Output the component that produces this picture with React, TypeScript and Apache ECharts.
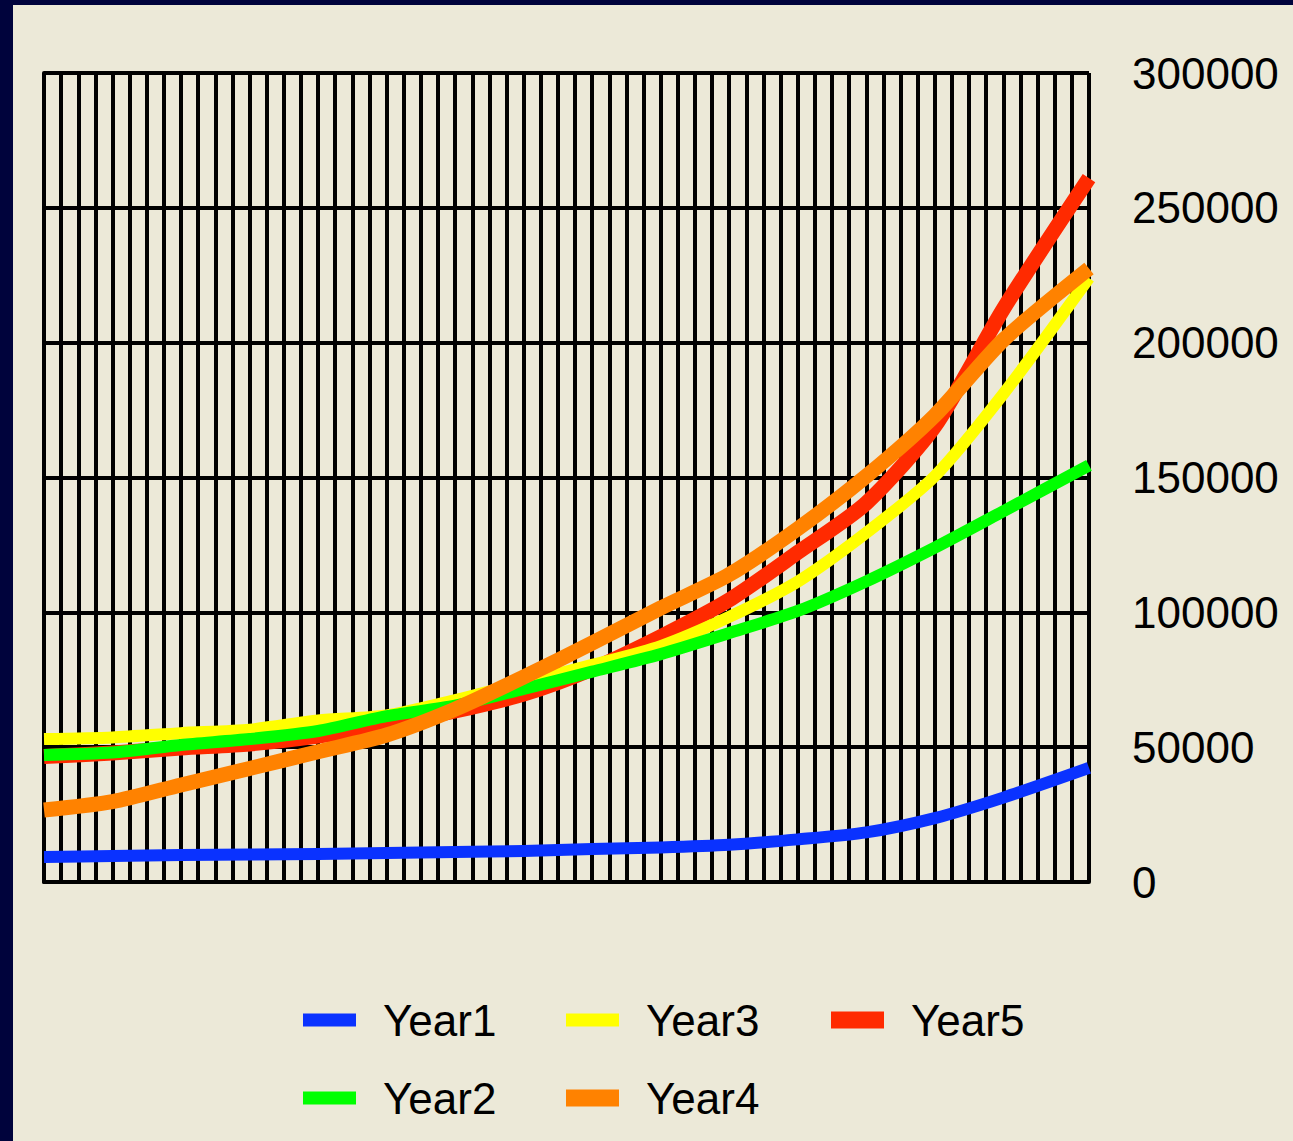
import { useEffect, useRef } from "react";
import * as echarts from "echarts";

// Period index (x) at which each value was taken; the axis runs 0..61
const periods = [0, 4, 8, 12, 16, 20, 24, 28, 32, 36, 40, 44, 48, 52, 56, 61];

const year1 = [9300, 9600, 10000, 10200, 10400, 10800, 11100, 11500, 12200, 12800, 13800, 15800, 18400, 23700, 31300, 42300];
const year2 = [47100, 48000, 50800, 53000, 56000, 61500, 65400, 71600, 78000, 84500, 92300, 100500, 111500, 124000, 137500, 154500];
const year3 = [53000, 53600, 55200, 56500, 59900, 61800, 67500, 74000, 80500, 87500, 98300, 111400, 129500, 150500, 181000, 224000];
const year4 = [26700, 29800, 36000, 42100, 48300, 54500, 64100, 76000, 88600, 101600, 114000, 131000, 150500, 173000, 201000, 227500];
const year5 = [46500, 47800, 49700, 51200, 54100, 58200, 63400, 69700, 79000, 91000, 104600, 122200, 140500, 169000, 212500, 261000];

const yMin = 0;
const yMax = 300000;
const yStep = 50000;
const xMax = 61;

const BG = "#ECE9D8";
const FONT = "'Liberation Sans', Arial, sans-serif";

type Def = {
  name: string;
  values: number[];
  color: string;
  width: number;
  z: number;
};

const defs: Def[] = [
  { name: "Year5", values: year5, color: "#FF2A00", width: 15, z: 2 },
  { name: "Year3", values: year3, color: "#FFFF00", width: 12, z: 3 },
  { name: "Year2", values: year2, color: "#00FF00", width: 12, z: 4 },
  { name: "Year4", values: year4, color: "#FF8200", width: 15, z: 5 },
  { name: "Year1", values: year1, color: "#0A32FF", width: 12, z: 6 },
];

// legend slots: two rows, filled column by column
const legendSlots = [
  { name: "Year1", left: 290, top: 993, h: 13 },
  { name: "Year2", left: 290, top: 1071, h: 13 },
  { name: "Year3", left: 553, top: 993, h: 13 },
  { name: "Year4", left: 553, top: 1071, h: 17 },
  { name: "Year5", left: 818, top: 993, h: 17 },
];

export default function App() {
  const ref = useRef<HTMLDivElement>(null);

  useEffect(() => {
    if (!ref.current) return;
    const chart = echarts.init(ref.current, null, { renderer: "svg" });

    const colorOf = (n: string) => defs.find((d) => d.name === n)!.color;

    chart.setOption({
      animation: false,
      backgroundColor: BG,
      grid: { left: 31, right: 204, top: 68, bottom: 259, containLabel: false },
      xAxis: {
        type: "value",
        min: 0,
        max: xMax,
        interval: 1,
        axisLine: { show: true, onZero: false, lineStyle: { color: "#000", width: 4 } },
        axisTick: { show: false },
        axisLabel: { show: false },
        splitLine: { show: true, lineStyle: { color: "#000", width: 4 } },
      },
      yAxis: {
        type: "value",
        position: "right",
        min: yMin,
        max: yMax,
        interval: yStep,
        axisLine: { show: true, lineStyle: { color: "#000", width: 4 } },
        axisTick: { show: true, inside: false, length: 18, lineStyle: { color: "#000", width: 4 } },
        axisLabel: {
          show: true,
          margin: 43,
          color: "#000",
          fontSize: 44,
          fontFamily: FONT,
          align: "left",
          formatter: (v: number) => String(v),
        },
        splitLine: { show: true, lineStyle: { color: "#000", width: 4 } },
      },
      legend: legendSlots.map((s) => ({
        show: true,
        orient: "horizontal",
        left: s.left,
        top: s.top,
        padding: 0,
        itemWidth: 53,
        itemHeight: s.h,
        selectedMode: false,
        icon: "rect",
        itemStyle: { borderWidth: 0 },
        textStyle: {
          color: "#000",
          fontSize: 44,
          fontFamily: FONT,
          padding: [0, 0, 0, 22],
        },
        data: [{ name: s.name, icon: "rect", itemStyle: { color: colorOf(s.name), borderWidth: 0 } }],
      })),
      series: defs.map((d) => ({
        name: d.name,
        type: "line",
        z: d.z,
        data: d.values.map((v, i) => [periods[i], v]),
        smooth: 0.25,
        showSymbol: false,
        symbol: "none",
        color: d.color,
        lineStyle: { color: d.color, width: d.width, cap: "butt", join: "round" },
        emphasis: { disabled: true },
      })),
    });

    return () => chart.dispose();
  }, []);

  return (
    <div
      style={{
        position: "fixed",
        left: 0,
        top: 0,
        width: 1293,
        height: 1141,
        background: "#00033C",
        overflow: "hidden",
      }}
    >
      <div ref={ref} style={{ position: "absolute", left: 13, top: 5, width: 1280, height: 1136 }} />
    </div>
  );
}
